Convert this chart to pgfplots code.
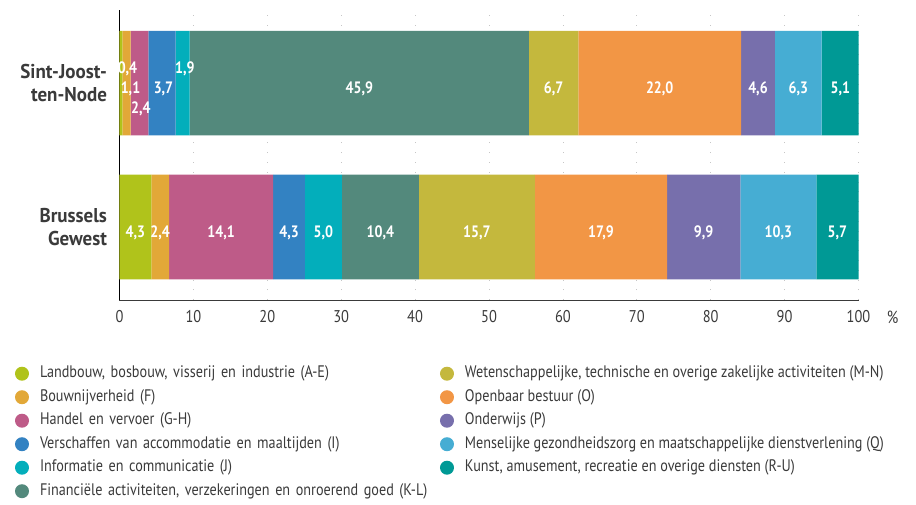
\documentclass[border=0pt]{standalone}
\usepackage{fontspec}
\setmainfont{PT Sans}[FakeStretch=0.85]
\newfontfamily\catfont{PT Sans}[FakeStretch=0.95]
\usepackage{pgfplots}
\usepackage{pgfplotstable}
\pgfplotsset{compat=1.18}

\definecolor{cAE}{HTML}{B0C31B}
\definecolor{cF}{HTML}{E2A838}
\definecolor{cGH}{HTML}{BE5B88}
\definecolor{cI}{HTML}{3382C2}
\definecolor{cJ}{HTML}{03AEBB}
\definecolor{cKL}{HTML}{53897C}
\definecolor{cMN}{HTML}{C4B83D}
\definecolor{cO}{HTML}{F29645}
\definecolor{cP}{HTML}{776FAC}
\definecolor{cQ}{HTML}{46ADD3}
\definecolor{cRU}{HTML}{009995}
\definecolor{txt}{HTML}{3A3A3A}

% value labels: x position, y position, text (y=1 Sint-Joost, y=0 Brussel)
\pgfplotstableread{
x      y      lab
1.08   1.097  0,4
1.49   0.96   1,1
2.9    0.822  2,4
5.95   0.96   3,7
8.85   1.097  1,9
32.45  0.96   45,9
58.75  0.96   6,7
73.1   0.96   22,0
86.4   0.96   4,6
91.85  0.96   6,3
97.55  0.96   5,1
2.15   -0.04  4,3
5.5    -0.04  2,4
13.75  -0.04  14,1
22.95  -0.04  4,3
27.6   -0.04  5,0
35.3   -0.04  10,4
48.35  -0.04  15,7
65.15  -0.04  17,9
79.05  -0.04  9,9
89.15  -0.04  10,3
97.15  -0.04  5,7
}\labels

\begin{document}
\begin{tikzpicture}
\pgfplotsset{
  base/.style={
    scale only axis, width=739pt, height=290pt,
    xmin=0, xmax=100, ymin=-0.507, ymax=1.507,
  },
}
\begin{axis}[
  base, name=ax,
  xbar stacked, bar width=104.5pt,
  axis x line*=bottom, axis y line*=left,
  axis line style={-},
  x axis line style={draw=txt, line width=1pt},
  y axis line style={draw=black, line width=1.2pt},
  xtick={0,10,...,100}, ytick={0,1},
  yticklabels={Brussels\\Gewest, Sint-Joost-\\ten-Node},
  tick style={draw=none},
  /pgf/number format/assume math mode=true,
  xticklabel style={font=\fontsize{17}{20}\selectfont, text=txt, yshift=-7pt},
  yticklabel style={font=\catfont\bfseries\fontsize{20}{23}\selectfont, text=txt, align=right, xshift=-9pt},
  xmajorgrids=true,
  major x grid style={gray!45, line width=0.8pt, dash pattern=on 0.8pt off 9pt},
  legend columns=6, transpose legend,
  legend cell align=left,
  legend image code/.code={\fill[draw=none] (0pt,0pt) circle (7pt);},
  legend style={
    at={(axis description cs:-0.1414,-0.230)}, anchor=north west,
    draw=none, fill=none, inner sep=0pt, outer sep=0pt,
    font=\fontsize{16.7}{19}\selectfont, text=txt,
    nodes={inner sep=0pt, text height=11pt, text depth=3pt},
    row sep=9.5pt, column sep=11pt,
    /tikz/column 2/.style={text width=389pt},
  },
]
\addplot[fill=cAE, draw=none] coordinates {(0.4,1) (4.3,0)};
\addplot[fill=cF,  draw=none] coordinates {(1.1,1) (2.4,0)};
\addplot[fill=cGH, draw=none] coordinates {(2.4,1) (14.1,0)};
\addplot[fill=cI,  draw=none] coordinates {(3.7,1) (4.3,0)};
\addplot[fill=cJ,  draw=none] coordinates {(1.9,1) (5.0,0)};
\addplot[fill=cKL, draw=none] coordinates {(45.9,1) (10.4,0)};
\addplot[fill=cMN, draw=none] coordinates {(6.7,1) (15.7,0)};
\addplot[fill=cO,  draw=none] coordinates {(22.0,1) (17.9,0)};
\addplot[fill=cP,  draw=none] coordinates {(4.6,1) (9.9,0)};
\addplot[fill=cQ,  draw=none] coordinates {(6.3,1) (10.3,0)};
\addplot[fill=cRU, draw=none] coordinates {(5.1,1) (5.7,0)};
\legend{
  {Landbouw, bosbouw, visserij en industrie (A-E)},
  {Bouwnijverheid (F)},
  {Handel en vervoer (G-H)},
  {Verschaffen van accommodatie en maaltijden (I)},
  {Informatie en communicatie (J)},
  {Financiële activiteiten, verzekeringen en onroerend goed (K-L)},
  {Wetenschappelijke, technische en overige zakelijke activiteiten (M-N)},
  {Openbaar bestuur (O)},
  {Onderwijs (P)},
  {Menselijke gezondheidszorg en maatschappelijke dienstverlening (Q)},
  {Kunst, amusement, recreatie en overige diensten (R-U)},
}
\end{axis}
\begin{axis}[
  base, at={(ax.south west)}, anchor=south west,
  hide axis, clip=false,
]
\addplot[only marks, mark=none, nodes near coords, point meta=explicit symbolic,
  every node near coord/.style={anchor=center, text=white,
    font=\bfseries\fontsize{16.5}{19}\selectfont, inner sep=0pt}]
  table[x=x, y=y, meta=lab] {\labels};
\node[anchor=north, font=\fontsize{17.5}{20}\selectfont, text=txt, inner sep=5.67pt, yshift=-5pt, xshift=34pt]
  at (rel axis cs:1,0) {\%};
\end{axis}
\pgfresetboundingbox
\path ([xshift=-119.5pt, yshift=-204pt]ax.south west) rectangle ([xshift=57.5pt, yshift=10pt]ax.north east);
\end{tikzpicture}
\end{document}
